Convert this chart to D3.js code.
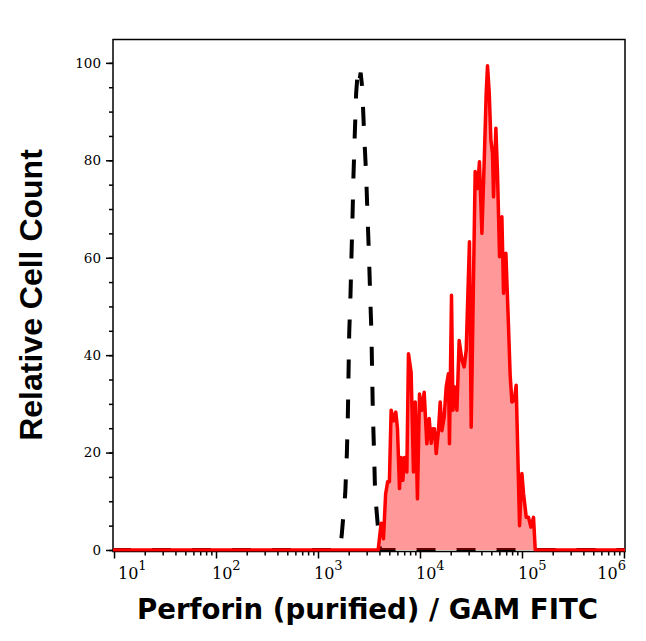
<!DOCTYPE html>
<html>
<head>
<meta charset="utf-8">
<script src="https://cdn.jsdelivr.net/npm/d3@7"></script>
<style>
  body { margin: 0; background: #fff; }
</style>
</head>
<body>
<svg id="chart"></svg>
<script>

// x axis decades (10^1 ... 10^6) and y tick values //
var xDecades = [1, 2, 3, 4, 5, 6];
var yTicks = [0, 20, 40, 60, 80, 100];

// isotype control (dashed) - log10 of channel and relative count //
var ctrlLog = [0.98, 3.217, 3.234, 3.267, 3.283, 3.293, 3.299, 3.306, 3.319, 3.329, 3.339, 3.348, 3.361, 3.374, 3.389,
               3.403, 3.418, 3.433, 3.452, 3.472, 3.485, 3.499, 3.511, 3.524, 3.531, 3.538, 3.550, 3.560, 3.593, 3.609, 6.02];
var ctrlCount = [0, 0, 3.4, 11.6, 19.8, 28, 36, 44.5, 52.7, 61, 69, 77, 85.6, 93.8, 98,
                 96, 98, 95, 85.6, 77, 69, 61, 52.7, 44.5, 36, 28, 19.8, 11.6, 3.4, 0, 0];

// perforin stained sample (red) - log10 of channel and relative count //
var perfLog = [0.98, 3.590, 3.619, 3.642, 3.663, 3.683, 3.700, 3.717, 3.742, 3.763, 3.779, 3.799, 3.815, 3.832, 3.848,
               3.871, 3.887, 3.913, 3.936, 3.953, 3.975, 3.995, 4.018, 4.041, 4.067, 4.090, 4.110, 4.126, 4.142,
               4.159, 4.181, 4.198, 4.215, 4.237, 4.257, 4.279, 4.289, 4.309, 4.323, 4.338, 4.362, 4.384, 4.411,
               4.433, 4.453, 4.485, 4.502, 4.541, 4.564, 4.583, 4.607, 4.630, 4.649, 4.662, 4.679, 4.695, 4.711,
               4.721, 4.744, 4.760, 4.780, 4.803, 4.819, 4.842, 4.863, 4.884, 4.901, 4.924, 4.943, 4.976, 4.999,
               5.015, 5.042, 5.064, 5.087, 5.113, 5.130, 6.02];
var perfCount = [0, 0, 5.5, 2.3, 11.5, 14, 14, 28.7, 26.5, 28.3, 25, 12.6, 19, 14.3, 19,
                 16, 40.3, 36.5, 16, 30.4, 10.5, 32, 28.7, 32.4, 21.8, 27, 21.9, 24.9, 24.9,
                 19.8, 24.5, 30.4, 24.5, 27.3, 33.5, 36.2, 21.8, 52.3, 28.7, 33.5, 28.7, 43, 39,
                 37.6, 41, 63.3, 25.2, 77.7, 74.2, 79.7, 65, 80, 93.8, 99.4, 93.8, 84.2, 81.4,
                 72.5, 86.6, 77.3, 60.2, 68.4, 52.7, 60.9, 48.8, 35.9, 30.4, 30.7, 33.8, 5, 15.7,
                 11.6, 6.7, 6.7, 4.7, 6.7, 0, 0];

var screen = {width: 646, height: 641};
var plot = {left: 113, top: 39.5, right: 625, bottom: 551.5};

var svg = d3.select("#chart")
            .attr("width", screen.width)
            .attr("height", screen.height);

var xScale = d3.scaleLog()
               .domain([Math.pow(10, 0.99), Math.pow(10, 6.01)])
               .range([plot.left, plot.right]);

var yScale = d3.scaleLinear()
               .domain([-0.31, 104.8])
               .range([plot.bottom, plot.top]);

// minor tick positions, 2..9 per decade and every 5 on y //
var xMinor = [];
xDecades.slice(0, 5).forEach(function(e) {
  for (var k = 2; k <= 9; k++) xMinor.push(k * Math.pow(10, e));
});
var yMinor = d3.range(0, 101, 5);

// axes //
var yAxisMinor = svg.append("g")
  .attr("transform", "translate(" + plot.left + ",0)")
  .call(d3.axisLeft(yScale).tickValues(yMinor).tickSize(4).tickSizeOuter(0).tickFormat(""));
var yAxis = svg.append("g")
  .attr("transform", "translate(" + plot.left + ",0)")
  .call(d3.axisLeft(yScale).tickValues(yTicks).tickSize(7).tickSizeOuter(0).tickPadding(5));
yAxis.selectAll("text")
  .attr("font-family", "DejaVu Serif")
  .attr("font-size", 13.5)
  .attr("fill", "#000");

var xAxisMinor = svg.append("g")
  .attr("transform", "translate(0," + plot.bottom + ")")
  .call(d3.axisBottom(xScale).tickValues(xMinor).tickSize(4).tickSizeOuter(0).tickFormat(""));
var xAxis = svg.append("g")
  .attr("transform", "translate(0," + plot.bottom + ")")
  .call(d3.axisBottom(xScale).tickValues(xDecades.map(function(e) { return Math.pow(10, e); }))
        .tickSize(7).tickSizeOuter(0).tickFormat(""));

svg.selectAll(".tick line").attr("stroke", "#000").attr("stroke-width", 1.5);
svg.selectAll(".domain").remove();

// decade labels 10^n //
xDecades.forEach(function(e) {
  var t = svg.append("text")
             .attr("y", 579)
             .attr("font-family", "DejaVu Serif")
             .attr("font-size", 16)
             .attr("fill", "#000");
  t.append("tspan").text("10");
  t.append("tspan").attr("dy", -9).attr("font-size", 13).text(e);
  var w = t.node().getComputedTextLength();
  var left = Math.max(xScale(Math.pow(10, e)) - 4, 118);
  if (left + w > 626) left = 626 - w;
  t.attr("x", left);
});

// frame //
svg.append("rect")
   .attr("x", plot.left)
   .attr("y", plot.top)
   .attr("width", plot.right - plot.left)
   .attr("height", plot.bottom - plot.top)
   .attr("fill", "none")
   .attr("stroke", "#000")
   .attr("stroke-width", 1.5);

var ctrl = ctrlLog.map(function(e, i) { return {v: Math.pow(10, e), c: ctrlCount[i]}; });
var perf = perfLog.map(function(e, i) { return {v: Math.pow(10, e), c: perfCount[i]}; });

svg.append("clipPath").attr("id", "clip")
   .append("rect")
   .attr("x", plot.left).attr("y", plot.top - 5)
   .attr("width", plot.right - plot.left).attr("height", plot.bottom - plot.top + 5);

var layer = svg.append("g").attr("clip-path", "url(#clip)");

var line = d3.line()
             .x(function(d) { return xScale(d.v); })
             .y(function(d) { return yScale(d.c); });

var area = d3.area()
             .x(function(d) { return xScale(d.v); })
             .y0(yScale(0))
             .y1(function(d) { return yScale(d.c); });

layer.append("path")
     .datum(ctrl)
     .attr("d", line)
     .attr("fill", "none")
     .attr("stroke", "#000")
     .attr("stroke-width", 4)
     .attr("stroke-dasharray", "19,21");

layer.append("path")
     .datum(perf)
     .attr("d", area)
     .attr("fill", "rgba(255,0,0,0.4)");

layer.append("path")
     .datum(perf)
     .attr("d", line)
     .attr("fill", "none")
     .attr("stroke", "#ff0000")
     .attr("stroke-width", 3.5)
     .attr("stroke-linejoin", "round");

// axis titles //
svg.append("text")
   .attr("x", 367.5)
   .attr("y", 619)
   .attr("text-anchor", "middle")
   .attr("font-family", "DejaVu Sans")
   .attr("font-weight", "bold")
   .attr("font-size", 27.6)
   .text("Perforin (purified) / GAM FITC");

svg.append("text")
   .attr("transform", "translate(42,295) rotate(-90)")
   .attr("text-anchor", "middle")
   .attr("font-family", "Liberation Sans")
   .attr("font-weight", "bold")
   .attr("font-size", 32)
   .text("Relative Cell Count");

</script>
</body>
</html>
